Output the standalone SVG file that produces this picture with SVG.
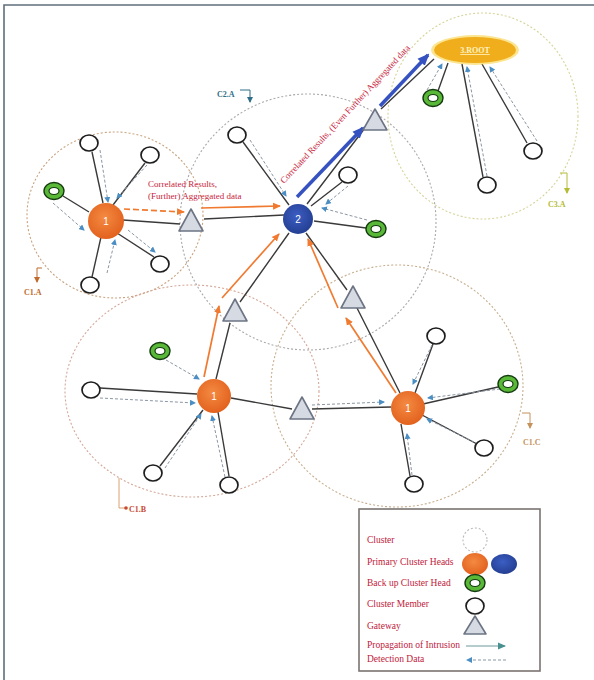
<svg xmlns="http://www.w3.org/2000/svg" width="594" height="680" viewBox="0 0 594 680">
<defs>
<style>
.cl{fill:none;stroke-width:1.1;stroke-dasharray:2 2}
.ln{stroke:#3a3a3a;stroke-width:1.4;fill:none}
.dd{stroke:#8a96a4;stroke-width:1;stroke-dasharray:3 2;fill:none;marker-end:url(#ad)}
.or{stroke:#f07a30;stroke-width:1.7;fill:none;marker-end:url(#ao)}
.bl{stroke:#3552c0;stroke-width:3.5;fill:none;marker-end:url(#ab)}
.mem{fill:#fff;stroke:#1e1e1e;stroke-width:1.7}
.bko{fill:#5ab838;stroke:#143a10;stroke-width:1.4}
.bki{fill:#fff;stroke:#143a10;stroke-width:1.2}
.gw{fill:#d6dae2;stroke:#6c7484;stroke-width:1.6;stroke-linejoin:round}
.hdo{fill:url(#go)}
.hdb{fill:url(#gb)}
.hl{font-family:"Liberation Sans",Arial,sans-serif;font-size:10px;fill:#fff;text-anchor:middle}
.rt{font-family:"Liberation Serif","Times New Roman",serif;font-size:9px;fill:#c8243c}
.lg{font-family:"Liberation Serif","Times New Roman",serif;font-size:9.5px;fill:#c0203a}
.cll{font-family:"Liberation Serif","Times New Roman",serif;font-size:8px;font-weight:bold}
.br{fill:none;stroke-width:1}
</style>
<radialGradient id="go" cx="0.45" cy="0.4" r="0.6"><stop offset="0" stop-color="#f48a42"/><stop offset="1" stop-color="#e2621e"/></radialGradient>
<radialGradient id="gb" cx="0.45" cy="0.4" r="0.6"><stop offset="0" stop-color="#3c5ec4"/><stop offset="1" stop-color="#243f92"/></radialGradient>
<marker id="ao" markerUnits="userSpaceOnUse" markerWidth="8" markerHeight="8" refX="7" refY="4" orient="auto"><path d="M0,0.5 L8,4 L0,7.5 z" fill="#f07a30"/></marker>
<marker id="ab" markerUnits="userSpaceOnUse" markerWidth="12" markerHeight="12" refX="10" refY="6" orient="auto"><path d="M0,1 L12,6 L0,11 z" fill="#3552c0"/></marker>
<marker id="ad" markerUnits="userSpaceOnUse" markerWidth="6" markerHeight="6" refX="5" refY="3" orient="auto"><path d="M0,0 L6,3 L0,6 z" fill="#4a8ec4"/></marker>
<marker id="at" markerUnits="userSpaceOnUse" markerWidth="8" markerHeight="8" refX="7" refY="4" orient="auto"><path d="M0,0.5 L8,4 L0,7.5 z" fill="#4a9090"/></marker>
<marker id="as" markerUnits="userSpaceOnUse" markerWidth="6" markerHeight="6" refX="3" refY="5" orient="0"><path d="M0,0 L6,0 L3,6 z" fill="context-stroke"/></marker>
</defs>
<rect width="594" height="680" fill="#fff"/>
<path d="M4,680 V5 H594" fill="none" stroke="#5f6e7c" stroke-width="1.6"/>

<g id="clusters">
<ellipse class="cl" cx="115" cy="215" rx="88" ry="83" stroke="#c9a27e"/>
<circle class="cl" cx="308" cy="222" r="128" stroke="#a9a9a9"/>
<ellipse class="cl" cx="483" cy="116" rx="95" ry="103" stroke="#d6d49a"/>
<ellipse class="cl" cx="192" cy="391" rx="127" ry="106" stroke="#d4a898"/>
<ellipse class="cl" cx="397" cy="386" rx="126" ry="121" stroke="#c8ae8e"/>
</g>

<g id="cluster-labels">
<path class="br" d="M240,90 H250 V102" stroke="#2f6e86" marker-end="url(#as)"/>
<text class="cll" x="217" y="97" fill="#2f6e86">C2.A</text>
<path class="br" d="M42,268 H37 V282" stroke="#c06a2c" marker-end="url(#as)"/>
<text class="cll" x="24" y="295" fill="#c06a2c">C1.A</text>
<path class="br" d="M560,173 H567 V193" stroke="#b4bc34" marker-end="url(#as)"/>
<text class="cll" x="548" y="207" fill="#b4bc34">C3.A</text>
<path class="br" d="M119,478 V508 H125" stroke="#d8a070"/>
<circle cx="126" cy="508" r="1.8" fill="#c84a30"/>
<text class="cll" x="129" y="512" fill="#c84a30">C1.B</text>
<path class="br" d="M522,413 H530 V428" stroke="#c4925c" marker-end="url(#as)"/>
<text class="cll" x="523" y="445" fill="#c4925c">C1.C</text>
</g>

<g id="connectors">
<path class="ln" d="M92,152 L103,203 M145,163 L113,205 M117,233 L154,257 M101,237 L92,277 M63,196 L89,212 M123,220 L180,224 M204,219 L284,215"/>
<path class="ln" d="M243,142 L289,205 M342,182 L311,206 M314,221 L366,228 M307,204 L368,124 M381,109 L434,59"/>
<path class="ln" d="M448,63 L438,91 M462,64 L483,177 M482,64 L527,143"/>
<path class="ln" d="M100,388 L197,394 M160,466 L203,410 M218,412 L229,476 M231,398 L292,409 M216,379 L230,323 M240,302 L289,233"/>
<path class="ln" d="M312,409 L391,407 M415,393 L433,344 M423,404 L498,387 M422,415 L477,444 M401,424 L410,476 M400,393 L357,308 M347,290 L306,233"/>

<path class="dd" d="M53,203 L84,230"/>
<path class="dd" d="M100,150 L108,202"/>
<path class="dd" d="M147,165 L117,198"/>
<path class="dd" d="M128,230 L155,252"/>
<path class="dd" d="M107,273 L115,240"/>
<path class="dd" d="M250,140 L286,196"/>
<path class="dd" d="M348,186 L326,204"/>
<path class="dd" d="M367,220 L322,208"/>
<path class="dd" d="M427,90 L442,64"/>
<path class="dd" d="M487,176 L467,67"/>
<path class="dd" d="M537,141 L490,67"/>
<path class="dd" d="M166,360 L199,379"/>
<path class="dd" d="M100,398 L195,403"/>
<path class="dd" d="M165,468 L201,414"/>
<path class="dd" d="M225,477 L212,416"/>
<path class="dd" d="M312,405 L384,402"/>
<path class="dd" d="M432,345 L413,384"/>
<path class="dd" d="M500,389 L428,398"/>
<path class="dd" d="M478,444 L427,419"/>
<path class="dd" d="M412,475 L407,434"/>

<path class="or" d="M124,209 L184,212" stroke-dasharray="6 3"/>
<path class="or" d="M201,208 L280,206"/>
<path class="or" d="M204,377 L219,306"/>
<path class="or" d="M222,298 L279,234"/>
<path class="or" d="M396,393 L346,318"/>
<path class="or" d="M338,308 L308,239"/>
<path class="bl" d="M297,197 L363,128"/>
<path class="bl" d="M380,106 L428,55"/>
</g>

<g id="edge-labels">
<text class="rt" x="148" y="187" font-size="9.3">Correlated Results,</text>
<text class="rt" x="148" y="199" font-size="9.3">(Further) Aggregated data</text>
<text class="rt" font-size="10" transform="translate(284,184) rotate(-47)">Correlated Results, (Even Further) Aggregated data</text>
</g>

<g id="head-1a"><circle class="hdo" cx="106" cy="221" r="18"/><text class="hl" x="106" y="225">1</text></g>
<g id="head-2"><circle class="hdb" cx="298" cy="219" r="15"/><text class="hl" x="298" y="223">2</text></g>
<g id="head-1b"><circle class="hdo" cx="214" cy="396" r="17"/><text class="hl" x="214" y="400">1</text></g>
<g id="head-1c"><circle class="hdo" cx="408" cy="408" r="17"/><text class="hl" x="408" y="412">1</text></g>
<g id="root">
<ellipse cx="475" cy="50" rx="44" ry="15" fill="#f8d448" opacity="0.6"/>
<ellipse cx="475" cy="50" rx="41" ry="13" fill="#f0ae1c"/>
<text x="475" y="53" text-anchor="middle" font-family="'Liberation Serif','Times New Roman',serif" font-size="8" font-weight="bold" fill="#fff4c4" text-decoration="underline">3.ROOT</text>
</g>

<g id="gw1"><path class="gw" d="M191,209 L179,231 L203,231 Z" stroke="#4a72a8"/></g>
<g id="gw2"><path class="gw" d="M375,109 L363,130 L387,130 Z"/></g>
<g id="gw3"><path class="gw" d="M235,299 L223,321 L247,321 Z"/></g>
<g id="gw4"><path class="gw" d="M353,286 L341,308 L365,308 Z"/></g>
<g id="gw5"><path class="gw" d="M302,397 L290,419 L314,419 Z"/></g>

<g id="m1"><ellipse class="mem" cx="89" cy="143" rx="9" ry="8"/></g>
<g id="m2"><ellipse class="mem" cx="150" cy="155" rx="9" ry="8"/></g>
<g id="m3"><ellipse class="mem" cx="160" cy="264" rx="9" ry="8"/></g>
<g id="m4"><ellipse class="mem" cx="90" cy="285" rx="9" ry="8"/></g>
<g id="m5"><ellipse class="mem" cx="237" cy="135" rx="9" ry="8"/></g>
<g id="m6"><ellipse class="mem" cx="348" cy="175" rx="9" ry="8"/></g>
<g id="m7"><ellipse class="mem" cx="487" cy="185" rx="9" ry="8"/></g>
<g id="m8"><ellipse class="mem" cx="533" cy="151" rx="9" ry="8"/></g>
<g id="m9"><ellipse class="mem" cx="91" cy="390" rx="9" ry="8"/></g>
<g id="m10"><ellipse class="mem" cx="153" cy="473" rx="9" ry="8"/></g>
<g id="m11"><ellipse class="mem" cx="229" cy="485" rx="9" ry="8"/></g>
<g id="m12"><ellipse class="mem" cx="436" cy="336" rx="9" ry="8"/></g>
<g id="m13"><ellipse class="mem" cx="484" cy="448" rx="9" ry="8"/></g>
<g id="m14"><ellipse class="mem" cx="414" cy="484" rx="9" ry="8"/></g>

<g id="b1"><ellipse class="bko" cx="54" cy="191" rx="10" ry="8.5"/><ellipse class="bki" cx="54" cy="191" rx="5" ry="3.5"/></g>
<g id="b2"><ellipse class="bko" cx="376" cy="229" rx="10" ry="8.5"/><ellipse class="bki" cx="376" cy="229" rx="5" ry="3.5"/></g>
<g id="b3"><ellipse class="bko" cx="433" cy="98" rx="10" ry="8.5"/><ellipse class="bki" cx="433" cy="98" rx="5" ry="3.5"/></g>
<g id="b4"><ellipse class="bko" cx="160" cy="351" rx="10" ry="8.5"/><ellipse class="bki" cx="160" cy="351" rx="5" ry="3.5"/></g>
<g id="b5"><ellipse class="bko" cx="508" cy="384" rx="10" ry="8.5"/><ellipse class="bki" cx="508" cy="384" rx="5" ry="3.5"/></g>

<g id="legend">
<rect x="359" y="509" width="181" height="162" fill="#fff" stroke="#7a7470" stroke-width="1.6"/>
<text class="lg" x="367" y="543">Cluster</text>
<text class="lg" x="367" y="565">Primary Cluster Heads</text>
<text class="lg" x="367" y="586">Back up Cluster Head</text>
<text class="lg" x="367" y="607">Cluster Member</text>
<text class="lg" x="367" y="629">Gateway</text>
<text class="lg" x="367" y="648">Propagation of Intrusion</text>
<text class="lg" x="367" y="662">Detection Data</text>
<circle class="cl" cx="475" cy="540" r="12" stroke="#bbbbbb"/>
<ellipse class="hdo" cx="475" cy="564" rx="13" ry="11"/>
<ellipse class="hdb" cx="504" cy="564" rx="13" ry="10"/>
<ellipse class="bko" cx="475" cy="583" rx="10" ry="8.5"/><ellipse class="bki" cx="475" cy="583" rx="5" ry="3.5"/>
<ellipse class="mem" cx="475" cy="606" rx="9" ry="8"/>
<path class="gw" d="M475,616 L464,634 L486,634 Z"/>
<path d="M466,646 L505,646" stroke="#6a9a9a" stroke-width="1" marker-end="url(#at)"/>
<path d="M506,660 L467,660" stroke="#8a96a4" stroke-width="1" stroke-dasharray="3 2" marker-end="url(#ad)"/>
</g>
</svg>
